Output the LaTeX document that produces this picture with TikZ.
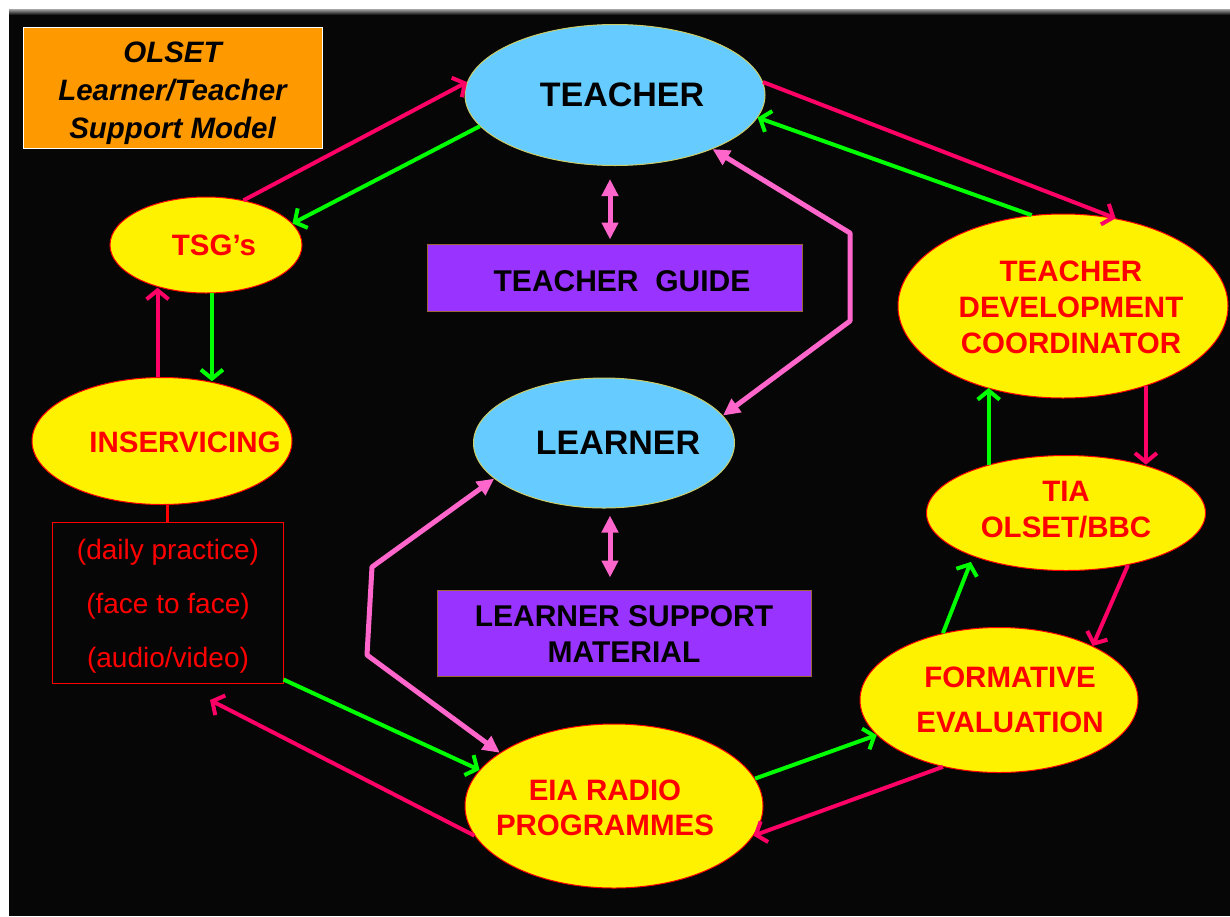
\documentclass[tikz,border=0pt]{standalone}
\usepackage{fontspec}
\setmainfont{Liberation Sans}
\usetikzlibrary{shapes.geometric,arrows.meta}

\definecolor{bgblack}{HTML}{060606}
\definecolor{titleorange}{HTML}{FF9900}
\definecolor{skyblue}{HTML}{66CCFF}
\definecolor{skyedge}{HTML}{CCCC66}
\definecolor{guidepurple}{HTML}{9933FF}
\definecolor{guideedge}{HTML}{996633}
\definecolor{linkred}{HTML}{FF0066}
\definecolor{linkgreen}{HTML}{00FF00}
\definecolor{linkpink}{HTML}{FF66CC}

\begin{document}
\begin{tikzpicture}[x=1pt,y=-1pt,
    bubble/.style={ellipse, inner sep=0pt, line width=1pt},
    yellowbubble/.style={bubble, fill=yellow, draw=red},
    bluebubble/.style={bubble, fill=skyblue, draw=skyedge},
    guidebox/.style={rectangle, fill=guidepurple, draw=guideedge, line width=1pt, inner sep=0pt},
    titlebox/.style={rectangle, fill=titleorange, draw=white, line width=0.8pt, inner sep=0pt},
    titletext/.style={text=black, align=center, inner sep=0pt,
        font=\fontsize{29.5}{38}\selectfont\bfseries\itshape},
    practicebox/.style={rectangle, fill=bgblack, draw=red, line width=1pt, inner sep=0pt},
    practicetext/.style={text=red, align=center, inner sep=0pt, font=\fontsize{28}{54}\selectfont},
    redtext/.style={text=red, font=\fontsize{29.5}{36}\selectfont\bfseries, align=center, inner sep=0pt},
    blacktext/.style={text=black, font=\fontsize{30}{36}\selectfont\bfseries, align=center, inner sep=0pt},
    bigtext/.style={blacktext, font=\fontsize{34}{40}\selectfont\bfseries},
    redarrow/.style={draw=linkred, line width=4pt, -{Straight Barb[length=9pt,width=22pt]}},
    greenarrow/.style={draw=linkgreen, line width=4pt, -{Straight Barb[length=9pt,width=22pt]}},
    pinkarrow/.style={draw=linkpink, line width=5pt, line join=bevel,
        {Triangle[length=17pt,width=16pt]}-{Triangle[length=17pt,width=16pt]}}]

    % Background
    \fill[white] (0,0) rectangle (1230,916);
    \fill[bgblack] (9,9) rectangle (1230,916);
    \shade[top color=gray!70, bottom color=bgblack] (9,9) rectangle (1230,15);
    \useasboundingbox (0,0) rectangle (1230,916);

    % Title
    \node[titlebox, minimum width=299pt, minimum height=121pt] (title) at (172.5,87.5) {};
    \node[titletext] (title-txt) at (172.5,93) {OLSET\\Learner/Teacher\\Support Model};

    % Nodes
    \node[bluebubble, minimum width=300pt, minimum height=141pt] (teacher) at (615,95) {};
    \node[bigtext] (teacher-txt) at (622,95) {TEACHER};

    \node[yellowbubble, minimum width=192pt, minimum height=96pt] (tsg) at (206,245) {};
    \node[redtext] (tsg-txt) at (214,245) {TSG’s};

    \node[guidebox, minimum width=375pt, minimum height=67pt] (guide) at (614.5,277.5) {};
    \node[blacktext] (guide-txt) at (622,281) {TEACHER\ \ GUIDE};

    \node[yellowbubble, minimum width=330pt, minimum height=184pt] (tdc) at (1063,306) {};
    \node[redtext] (tdc-txt) at (1071,307) {TEACHER\\DEVELOPMENT\\COORDINATOR};

    \node[yellowbubble, minimum width=260pt, minimum height=127pt] (insv) at (162,441) {};
    \node[redtext] (insv-txt) at (185,442) {INSERVICING};

    \node[bluebubble, minimum width=261pt, minimum height=130pt] (learner) at (604,443) {};
    \node[bigtext] (learner-txt) at (618,443) {LEARNER};

    \node[yellowbubble, minimum width=279pt, minimum height=115pt] (tia) at (1066,513) {};
    \node[redtext] (tia-txt) at (1066,510) {TIA\\OLSET/BBC};

    \node[practicebox, minimum width=231pt, minimum height=161pt] (practice) at (167.5,602.5) {};
    \node[practicetext] (practice-txt) at (168,606)
        {(daily practice)\\(face to face)\\(audio/video)};

    \node[guidebox, minimum width=374pt, minimum height=86pt] (lsm) at (624,633) {};
    \node[blacktext] (lsm-txt) at (624,634) {LEARNER SUPPORT\\MATERIAL};

    \node[yellowbubble, minimum width=278pt, minimum height=145pt] (evaluation) at (999,700) {};
    \node[redtext, font=\fontsize{29.5}{45}\selectfont\bfseries] (evaluation-txt) at (1010,700)
        {FORMATIVE\\EVALUATION};

    \node[yellowbubble, minimum width=298pt, minimum height=164pt] (radio) at (614,806) {};
    \node[redtext, font=\fontsize{29.5}{35}\selectfont\bfseries] (radio-txt) at (605,808)
        {EIA RADIO\\PROGRAMMES};

    % Teacher links
    \draw[redarrow] (tsg.50) -- (teacher.175);
    \draw[greenarrow] (teacher.193) -- (tsg.14);
    \draw[redarrow] (teacher.5) -- (tdc.59);
    \draw[greenarrow] (tdc.109) -- (teacher.351);

    % Guide and support material
    \coordinate (gx) at (610,0);
    \draw[pinkarrow, shorten <=13pt, shorten >=4pt] (teacher.south -| gx) -- (guide.north -| gx);
    \draw[pinkarrow, shorten <=7pt, shorten >=12pt] (learner.south -| gx) -- (lsm.north -| gx);

    % Teacher - learner - radio loops
    \coordinate (rbend1) at (850,233);
    \coordinate (rbend2) at (850,321);
    \draw[pinkarrow] (teacher.331) -- (rbend1) -- (rbend2) -- (learner.13);
    \coordinate (lbend1) at (372,567);
    \coordinate (lbend2) at (367,655);
    \draw[pinkarrow] (learner.198) -- (lbend1) -- (lbend2) -- (radio.155);

    % TSG's and inservicing
    \draw[redarrow] (insv.94) -- (insv.94 |- tsg.223);
    \draw[greenarrow] (tsg.277) -- (tsg.277 |- insv.52);
    \draw[red, line width=2.5pt] (insv.south -| practice.north) -- (practice.north);

    % Inservicing and radio
    \draw[greenarrow] ([yshift=4pt]practice.south east) -- (radio.165);
    \coordinate (practicetip) at (210,700);
    \draw[redarrow] (radio.192) -- (practicetip);

    % Radio and evaluation
    \draw[greenarrow] (radio.11) -- (evaluation.196);
    \draw[redarrow] (evaluation.230) -- (radio.348);

    % Evaluation, TIA and coordinator
    \draw[greenarrow, shorten >=6pt] (evaluation.130) -- (tia.205);
    \draw[redarrow] (tia.320) -- (evaluation.30);
    \draw[greenarrow] (tia.148) -- (tia.148 |- tdc.227);
    \draw[redarrow] (tdc.316) -- (tdc.316 |- tia.32);
\end{tikzpicture}
\end{document}
